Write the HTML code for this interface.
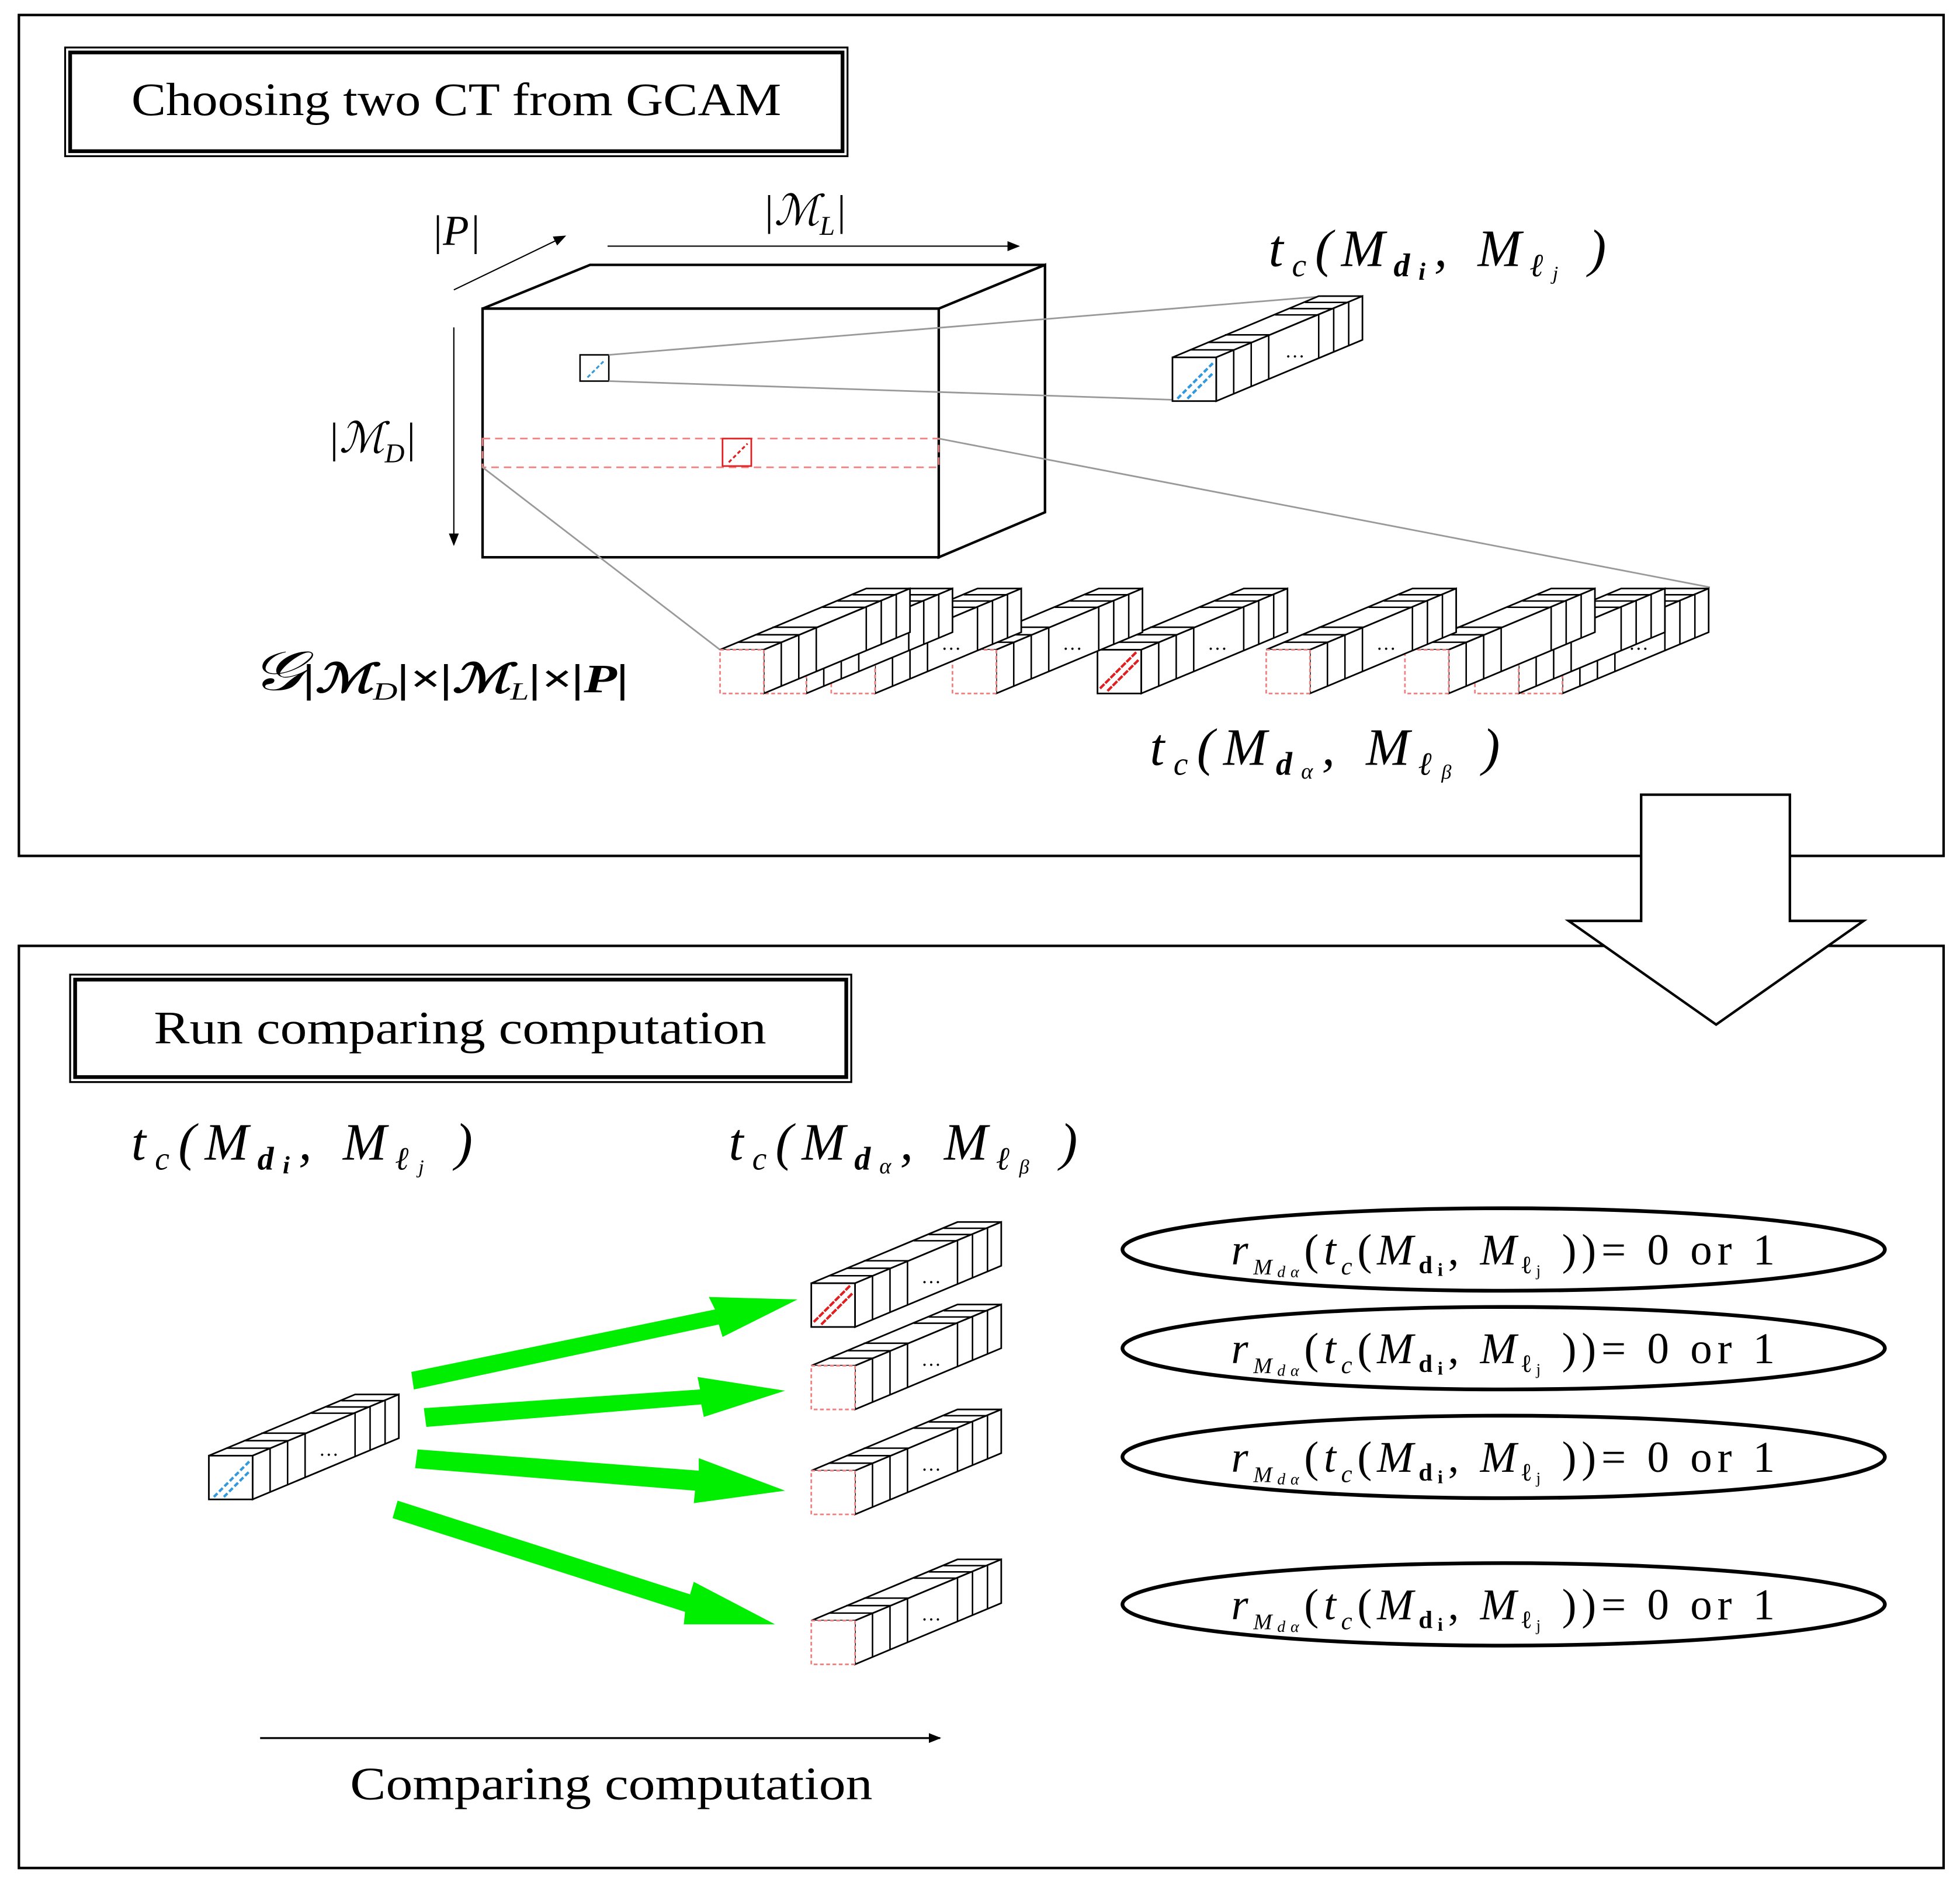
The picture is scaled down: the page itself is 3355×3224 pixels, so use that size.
<!DOCTYPE html>
<html><head><meta charset="utf-8"><style>
html,body{margin:0;padding:0;background:#fff}
svg{display:block}
text{font-family:"Liberation Serif","DejaVu Serif",serif;fill:#000}
</style></head><body>
<svg width="3355" height="3224" viewBox="0 0 1568 1507" xmlns="http://www.w3.org/2000/svg">
<defs>
<marker id="ah" markerWidth="10" markerHeight="8" refX="9" refY="4" orient="auto" markerUnits="userSpaceOnUse"><path d="M0,0 L10,4 L0,8 z" fill="#000"/></marker>
<g id="tube">
<polygon points="0,0 35,0 152,-49 117,-49" fill="#fff" stroke="#000" stroke-width="1.3"/>
<polygon points="35,0 35,35 152,-14 152,-49" fill="#fff" stroke="#000" stroke-width="1.3"/>
<path d="M14,-6 L49,-6 L49,29 M28,-12 L63,-12 L63,23 M42,-18 L77,-18 L77,17 M82,-34 L117,-34 L117,1 M94,-39 L129,-39 L129,-4 M106,-44 L141,-44 L141,-9" fill="none" stroke="#000" stroke-width="1.2"/>
</g>
<g id="fw"><rect x="0" y="0" width="35" height="35" fill="#fff" stroke="#000" stroke-width="1.3"/></g>
<g id="fr"><rect x="0" y="0" width="35" height="35" fill="#fff" stroke="#f08080" stroke-width="1.3" stroke-dasharray="3,2"/></g>
<g id="fb"><rect x="0" y="0" width="35" height="35" fill="#fff" stroke="#000" stroke-width="1.3"/><path d="M4,33 L33,4 M12,33 L33,12" stroke="#3399dd" stroke-width="2" stroke-dasharray="4,2"/></g>
<g id="fred"><rect x="0" y="0" width="35" height="35" fill="#fff" stroke="#000" stroke-width="1.3"/><path d="M2,31 L31,2 M8,33 L33,8" stroke="#e02020" stroke-width="2" stroke-dasharray="5,1"/></g>
</defs>
<rect width="1568" height="1507" fill="#fff"/>
<rect x="15" y="12" width="1540" height="673" fill="none" stroke="#000" stroke-width="2"/>
<rect x="52" y="38" width="626" height="87" fill="none" stroke="#000" stroke-width="1.5"/>
<rect x="56" y="42" width="618" height="79" fill="none" stroke="#000" stroke-width="3"/>
<text x="105" y="92" font-size="37" textLength="520" lengthAdjust="spacingAndGlyphs">Choosing two CT from GCAM</text>
<polygon points="386,247 472,212 836,212 751,247" fill="#fff" stroke="#000" stroke-width="2"/>
<polygon points="751,247 836,212 836,410 751,446" fill="#fff" stroke="#000" stroke-width="2"/>
<rect x="386" y="247" width="365" height="199" fill="#fff" stroke="#000" stroke-width="2"/>
<line x1="363" y1="232" x2="452" y2="189" stroke="#000" marker-end="url(#ah)"/>
<line x1="486" y1="197" x2="815" y2="197" stroke="#000" marker-end="url(#ah)"/>
<line x1="363" y1="262" x2="363" y2="436" stroke="#000" marker-end="url(#ah)"/>
<text x="345" y="196" font-size="34" font-style="italic">|P|</text>
<text x="610" y="180" font-size="34" font-style="italic">|ℳ<tspan font-size="22" dy="8">L</tspan><tspan dy="-8">|</tspan></text>
<text x="262" y="362" font-size="34" font-style="italic">|ℳ<tspan font-size="22" dy="8">D</tspan><tspan dy="-8">|</tspan></text>
<rect x="464" y="284" width="23" height="21" fill="#fff" stroke="#000" stroke-width="1.2"/>
<path d="M470,302 L484,288" stroke="#3399dd" stroke-width="1.5" stroke-dasharray="3,2"/>
<rect x="386" y="351" width="365" height="23" fill="none" stroke="#f08080" stroke-width="1.3" stroke-dasharray="6,4"/>
<rect x="578" y="351" width="23" height="22" fill="none" stroke="#e02020" stroke-width="1.3"/>
<path d="M583,370 L598,355" stroke="#e02020" stroke-width="1.5" stroke-dasharray="3,2"/>
<g stroke="#999" stroke-width="1.3">
<line x1="487" y1="284" x2="1060" y2="237"/><line x1="487" y1="305" x2="940" y2="320"/>
<line x1="751" y1="351" x2="1368" y2="470"/><line x1="386" y1="374" x2="576" y2="520"/>
</g>
<use href="#tube" x="938" y="286"/><use href="#fb" x="938" y="286"/>
<text x="1028" y="286" font-size="16">…</text>
<text x="1015" y="213" font-size="42" font-style="italic" textLength="270" lengthAdjust="spacing">t<tspan font-size="26" dy="8">c</tspan><tspan dy="-8">(M</tspan><tspan font-size="26" dy="8" font-weight="bold">d</tspan><tspan font-size="20" dy="3" font-weight="bold">i</tspan><tspan dy="-11">, M</tspan><tspan font-size="26" dy="8" font-weight="bold">ℓ</tspan><tspan font-size="16" dy="3">j</tspan><tspan dy="-11"> )</tspan></text>
<use href="#tube" x="1215" y="520"/><use href="#fr" x="1215" y="520"/><text x="1303" y="520" font-size="16">…</text>
<use href="#tube" x="1180" y="520"/><use href="#fr" x="1180" y="520"/>
<use href="#tube" x="1124" y="520"/><use href="#fr" x="1124" y="520"/>
<use href="#tube" x="1013" y="520"/><use href="#fr" x="1013" y="520"/><text x="1101" y="520" font-size="16">…</text>
<use href="#tube" x="878" y="520"/><use href="#fred" x="878" y="520"/><text x="966" y="520" font-size="16">…</text>
<use href="#tube" x="762" y="520"/><use href="#fr" x="762" y="520"/><text x="850" y="520" font-size="16">…</text>
<use href="#tube" x="665" y="520"/><use href="#fr" x="665" y="520"/><text x="753" y="520" font-size="16">…</text>
<use href="#tube" x="610" y="520"/><use href="#fr" x="610" y="520"/>
<use href="#tube" x="576" y="520"/><use href="#fr" x="576" y="520"/>
<text x="200" y="552" font-size="44" font-style="italic" textLength="303" lengthAdjust="spacingAndGlyphs">𝒢<tspan font-size="32" font-weight="bold" dy="2">|ℳ</tspan><tspan font-size="20" dy="6">D</tspan><tspan font-size="32" font-weight="bold" dy="-6">|×|ℳ</tspan><tspan font-size="20" dy="6">L</tspan><tspan font-size="32" font-weight="bold" dy="-6">|×|P|</tspan></text>
<text x="920" y="612" font-size="42" font-style="italic" textLength="280" lengthAdjust="spacing">t<tspan font-size="26" dy="8">c</tspan><tspan dy="-8">(M</tspan><tspan font-size="26" dy="8" font-weight="bold">d</tspan><tspan font-size="18" dy="3">α</tspan><tspan dy="-11">, M</tspan><tspan font-size="26" dy="8" font-weight="bold">ℓ</tspan><tspan font-size="16" dy="3">β</tspan><tspan dy="-11"> )</tspan></text>
<rect x="15" y="757" width="1540" height="738" fill="none" stroke="#000" stroke-width="2"/>
<polygon points="1313,636 1432,636 1432,737 1491,737 1373,820 1255,737 1313,737" fill="#fff" stroke="#000" stroke-width="2"/>
<rect x="56" y="780" width="625" height="86" fill="none" stroke="#000" stroke-width="1.5"/>
<rect x="60" y="784" width="617" height="78" fill="none" stroke="#000" stroke-width="3"/>
<text x="123" y="835" font-size="37" textLength="490" lengthAdjust="spacingAndGlyphs">Run comparing computation</text>
<text x="105" y="928" font-size="42" font-style="italic" textLength="273" lengthAdjust="spacing">t<tspan font-size="26" dy="8">c</tspan><tspan dy="-8">(M</tspan><tspan font-size="26" dy="8" font-weight="bold">d</tspan><tspan font-size="20" dy="3" font-weight="bold">i</tspan><tspan dy="-11">, M</tspan><tspan font-size="26" dy="8" font-weight="bold">ℓ</tspan><tspan font-size="16" dy="3">j</tspan><tspan dy="-11"> )</tspan></text>
<text x="583" y="928" font-size="42" font-style="italic" textLength="279" lengthAdjust="spacing">t<tspan font-size="26" dy="8">c</tspan><tspan dy="-8">(M</tspan><tspan font-size="26" dy="8" font-weight="bold">d</tspan><tspan font-size="18" dy="3">α</tspan><tspan dy="-11">, M</tspan><tspan font-size="26" dy="8" font-weight="bold">ℓ</tspan><tspan font-size="16" dy="3">β</tspan><tspan dy="-11"> )</tspan></text>
<use href="#tube" x="167" y="1165"/><use href="#fb" x="167" y="1165"/><text x="255" y="1165" font-size="16">…</text>
<use href="#tube" x="649" y="1027"/><use href="#fred" x="649" y="1027"/><text x="737" y="1027" font-size="16">…</text>
<use href="#tube" x="649" y="1093"/><use href="#fr" x="649" y="1093"/><text x="737" y="1093" font-size="16">…</text>
<use href="#tube" x="649" y="1177"/><use href="#fr" x="649" y="1177"/><text x="737" y="1177" font-size="16">…</text>
<use href="#tube" x="649" y="1297"/><use href="#fr" x="649" y="1297"/><text x="737" y="1297" font-size="16">…</text>
<g fill="#00ee00">
<polygon points="329,1098 572,1048 567,1038 638,1040 578,1070 575,1060 331,1112"/>
<polygon points="339,1127 560,1112 558,1102 628,1113 563,1134 561,1124 341,1142"/>
<polygon points="334,1160 559,1177 559,1167 628,1193 555,1203 556,1193 332,1175"/>
<polygon points="318,1201 552,1276 555,1266 620,1300 547,1300 548,1290 314,1215"/>
</g>
<g fill="none" stroke="#000" stroke-width="3">
<ellipse cx="1203" cy="1000" rx="305" ry="33"/>
<ellipse cx="1203" cy="1079" rx="305" ry="33"/>
<ellipse cx="1203" cy="1166" rx="305" ry="33"/>
<ellipse cx="1203" cy="1284" rx="305" ry="33"/>
</g>
<g font-size="35">
<text x="985" y="1012" textLength="435" lengthAdjust="spacing"><tspan font-style="italic">r</tspan><tspan font-size="18" dy="8" font-style="italic">M</tspan><tspan font-size="13" dy="2" font-style="italic">dα</tspan><tspan dy="-10">(</tspan><tspan font-style="italic">t</tspan><tspan font-size="20" dy="8" font-style="italic">c</tspan><tspan dy="-8">(</tspan><tspan font-style="italic">M</tspan><tspan font-size="20" dy="7" font-weight="bold">d</tspan><tspan font-size="15" dy="2" font-weight="bold">i</tspan><tspan dy="-9">, </tspan><tspan font-style="italic">M</tspan><tspan font-size="20" dy="7" font-weight="bold">ℓ</tspan><tspan font-size="13" dy="2">j</tspan><tspan dy="-9"> ))= 0 or 1</tspan></text>
<text x="985" y="1091" textLength="435" lengthAdjust="spacing"><tspan font-style="italic">r</tspan><tspan font-size="18" dy="8" font-style="italic">M</tspan><tspan font-size="13" dy="2" font-style="italic">dα</tspan><tspan dy="-10">(</tspan><tspan font-style="italic">t</tspan><tspan font-size="20" dy="8" font-style="italic">c</tspan><tspan dy="-8">(</tspan><tspan font-style="italic">M</tspan><tspan font-size="20" dy="7" font-weight="bold">d</tspan><tspan font-size="15" dy="2" font-weight="bold">i</tspan><tspan dy="-9">, </tspan><tspan font-style="italic">M</tspan><tspan font-size="20" dy="7" font-weight="bold">ℓ</tspan><tspan font-size="13" dy="2">j</tspan><tspan dy="-9"> ))= 0 or 1</tspan></text>
<text x="985" y="1178" textLength="435" lengthAdjust="spacing"><tspan font-style="italic">r</tspan><tspan font-size="18" dy="8" font-style="italic">M</tspan><tspan font-size="13" dy="2" font-style="italic">dα</tspan><tspan dy="-10">(</tspan><tspan font-style="italic">t</tspan><tspan font-size="20" dy="8" font-style="italic">c</tspan><tspan dy="-8">(</tspan><tspan font-style="italic">M</tspan><tspan font-size="20" dy="7" font-weight="bold">d</tspan><tspan font-size="15" dy="2" font-weight="bold">i</tspan><tspan dy="-9">, </tspan><tspan font-style="italic">M</tspan><tspan font-size="20" dy="7" font-weight="bold">ℓ</tspan><tspan font-size="13" dy="2">j</tspan><tspan dy="-9"> ))= 0 or 1</tspan></text>
<text x="985" y="1296" textLength="435" lengthAdjust="spacing"><tspan font-style="italic">r</tspan><tspan font-size="18" dy="8" font-style="italic">M</tspan><tspan font-size="13" dy="2" font-style="italic">dα</tspan><tspan dy="-10">(</tspan><tspan font-style="italic">t</tspan><tspan font-size="20" dy="8" font-style="italic">c</tspan><tspan dy="-8">(</tspan><tspan font-style="italic">M</tspan><tspan font-size="20" dy="7" font-weight="bold">d</tspan><tspan font-size="15" dy="2" font-weight="bold">i</tspan><tspan dy="-9">, </tspan><tspan font-style="italic">M</tspan><tspan font-size="20" dy="7" font-weight="bold">ℓ</tspan><tspan font-size="13" dy="2">j</tspan><tspan dy="-9"> ))= 0 or 1</tspan></text>
</g>
<line x1="208" y1="1391" x2="752" y2="1391" stroke="#000" stroke-width="1.5" marker-end="url(#ah)"/>
<text x="280" y="1440" font-size="37" textLength="418" lengthAdjust="spacingAndGlyphs">Comparing computation</text>
</svg>
</body></html>
